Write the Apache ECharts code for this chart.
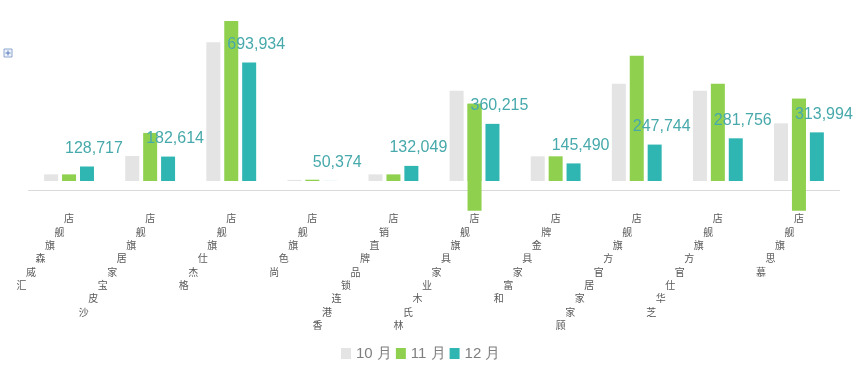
<!DOCTYPE html>
<html>
<head>
<meta charset="utf-8">
<script src="https://cdn.jsdelivr.net/npm/echarts@6/dist/echarts.min.js"></script>
<style>
html,body{margin:0;padding:0;background:#fff;}
#c{width:860px;height:373px;}
</style>
</head>
<body>
<div id="c"></div>
<script>
// ---- data ----
const categories = ['汇威森旗舰店','沙皮宝家居旗舰店','格杰仕旗舰店','尚色旗舰店','香港连锁品牌直销店','林氏木业家具旗舰店','和富家具金牌店','顾家家居官方旗舰店','芝华仕官方旗舰店','慕思旗舰店'];
const legendNames = ['10 月','11 月','12 月'];
const oct = [86000, 186000, 803000, 56000, 86000, 540000, 184000, 578000, 540000, 363000];
const nov = [86000, 311000, 919000, 57000, 86000, 470000, 184000, 730000, 578000, 497000];
const dec = [128717, 182614, 693934, 50374, 132049, 360215, 145490, 247744, 281756, 313994];
// lower end of the 11月 bars that run below the axis
const novLow = [null, null, null, null, null, -111000, null, null, null, -111000];
const axisBase = 50000;
const axisMax = 1000000;

const GRAY = '#e4e4e4', GREEN = '#8fd14f', TEAL = '#2fb6b3';
const font = 'Liberation Sans, Arial, sans-serif';
const cjk = 'Noto Sans CJK SC, sans-serif';

const novRange = [];
novLow.forEach((v, i) => { if (v !== null) novRange.push([i, v, nov[i]]); });

const rich = {};
for (let k = 0; k < 10; k++) {
  rich['s' + k] = { padding: [0, k * 9.5, 0, 0], align: 'right', lineHeight: 13.3, fontSize: 10, color: '#595959', fontFamily: cjk };
}

const chart = echarts.init(document.getElementById('c'));
chart.setOption({
  animation: false,
  backgroundColor: '#fff',
  grid: { left: 28.5, right: 20.5, top: 6, bottom: 192, containLabel: false },
  legend: {
    data: legendNames,
    left: 341, top: 346, padding: 0,
    icon: 'rect', itemWidth: 10, itemHeight: 11, itemGap: 4,
    textStyle: { fontSize: 15, color: '#7f7f7f', fontFamily: font }
  },
  graphic: [{
    type: 'group', left: 3, top: 48,
    children: [
      { type: 'rect', shape: { x: 0, y: 0, width: 8, height: 8 }, style: { fill: '#eef2fa', stroke: '#8ea6cf', lineWidth: 1 } },
      { type: 'line', shape: { x1: 4, y1: 1.5, x2: 4, y2: 6.5 }, style: { stroke: '#5a7fbf', lineWidth: 1 } },
      { type: 'line', shape: { x1: 1.5, y1: 4, x2: 6.5, y2: 4 }, style: { stroke: '#5a7fbf', lineWidth: 1 } }
    ]
  }],
  xAxis: {
    type: 'category', data: categories, offset: 9,
    axisTick: { show: false },
    axisLine: { lineStyle: { color: '#dadada', width: 1 } },
    axisLabel: {
      interval: 0, margin: 22, align: 'right', verticalAlign: 'top',
      padding: [0, -5, 0, 0],
      fontSize: 10, color: '#595959', fontFamily: cjk, lineHeight: 13.3,
      rich: rich,
      formatter: function (v) {
        const ch = Array.from(v);
        const lines = [];
        for (let i = ch.length - 1, k = 0; i >= 0; i--, k++) lines.push('{s' + k + '|' + ch[i] + '}');
        return lines.join('\n');
      }
    }
  },
  yAxis: { type: 'value', show: false, min: axisBase, max: axisMax, startValue: axisBase, splitLine: { show: false } },
  series: [
    { name: legendNames[0], type: 'bar', data: oct, barWidth: 14, barGap: '28%', itemStyle: { color: GRAY } },
    { name: legendNames[1], type: 'bar', data: nov, barWidth: 14, barGap: '28%', itemStyle: { color: GREEN } },
    { name: legendNames[2], type: 'bar', data: dec, barWidth: 14, barGap: '28%', itemStyle: { color: TEAL },
      label: { show: true, position: 'top', offset: [7, -5], color: '#47a9ab', fontSize: 16, fontFamily: font,
        formatter: p => p.value.toLocaleString('en-US') } },
    { name: legendNames[1], type: 'custom', data: novRange, encode: { x: 0, y: [1, 2] }, z: 1,
      itemStyle: { color: GREEN },
      renderItem: function (params, api) {
        const top = api.coord([api.value(0), api.value(2)]);
        const bot = api.coord([api.value(0), api.value(1)]);
        return { type: 'rect', shape: { x: top[0] - 7, y: top[1], width: 14, height: bot[1] - top[1] }, style: { fill: GREEN } };
      } }
  ]
});
</script>
</body>
</html>
